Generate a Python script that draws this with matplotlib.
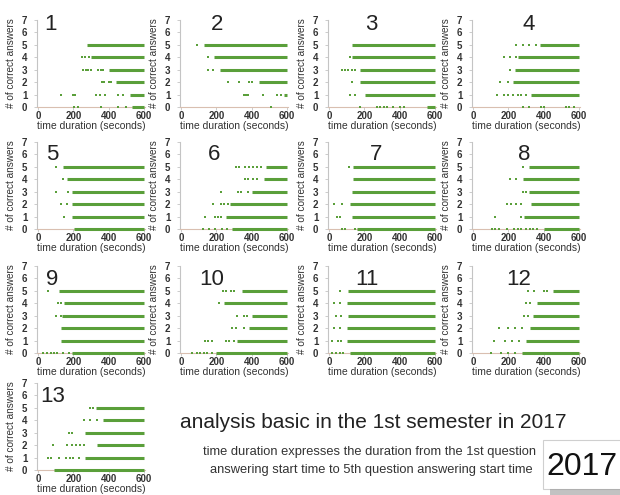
import numpy as np
import matplotlib
matplotlib.use('Agg')
import matplotlib.pyplot as plt
from matplotlib.patches import Rectangle

plt.rcParams['font.family'] = ['Liberation Sans', 'DejaVu Sans']

# number of correct answers per row, 0..5
ANSWERS = [0, 1, 2, 3, 4, 5]
PANEL_IDS = list(range(1, 14))
TIME_TICKS = [0, 200, 400, 600]
ANSWER_TICKS = [0, 1, 2, 3, 4, 5, 6, 7]

# time (s) where the dense band of students begins, per panel, rows 0..5 (nan = no band)
nan = np.nan
BAND_START = [
    [530, 520, 440, 400, 300, 280],
    [nan, 580, 440, 220, 185, 130],
    [555, 205, 175, 175, 130, 130],
    [nan, 330, 227, 236, 255, 380],
    [205, 194, 194, 195, 165, 140],
    [290, 255, 280, 400, 470, 480],
    [157, 129, 120, 129, 138, 138],
    [400, 290, 327, 318, 282, 318],
    [194, 129, 129, 138, 148, 120],
    [200, 318, 382, 400, 245, 345],
    [120, 100, 100, 110, 100, 110],
    [280, 300, 320, 340, 360, 450],
    [92, 268, 332, 268, 370, 330],
]

# isolated answers before the band, per panel, rows 0..5
EARLY_TIMES = [
    [[205, 225, 355, 450, 500], [130, 200, 210, 330, 350, 380, 450, 480],
     [360, 375, 400, 415], [255, 270, 285, 300, 340, 355, 370], [250, 265, 290], []],
    [[510], [355, 365, 380, 465, 545, 565], [265, 330, 385, 400], [155, 182], [155], [90]],
    [[175, 270, 290, 310, 330, 360, 400, 425], [120, 148], [129],
     [74, 90, 110, 130, 150], [120], []],
    [[282, 318, 382, 400, 527, 545, 573], [136, 173, 200, 227, 255, 273, 300],
     [155, 200], [209], [178, 209, 245], [245, 282, 318, 355]],
    [[], [148], [129, 166], [102, 170], [140], [102]],
    [[127, 160, 190, 230, 260], [136, 191, 210, 225], [182, 227, 245, 265],
     [227, 320, 340, 380], [360, 380, 410, 430], [309, 330, 360, 385, 405, 430, 450]],
    [[74, 92, 150], [46, 65], [28, 74], [], [], [111]],
    [[109, 127, 145, 191, 230, 255, 273, 300, 320, 340, 360], [127, 273],
     [191, 218, 245, 273], [282, 300], [209, 245], [282]],
    [[28, 50, 75, 90, 110, 140, 175], [], [], [102, 129], [111, 129], [55]],
    [[60, 90, 110, 130, 150, 175], [136, 155, 173, 255, 273, 300], [291, 309, 355],
     [318, 355, 373], [218], [236, 255, 282, 300]],
    [[20, 40, 60, 80], [20, 50, 70], [30, 60], [40, 70], [30, 60], [60]],
    [[100, 160, 200, 240], [120, 180, 220, 260], [150, 200, 240, 280],
     [290, 310], [300, 320], [310, 345, 400, 420]],
    [[], [55, 74, 120, 157, 180, 200, 230], [83, 166, 190, 215, 240, 258],
     [175, 194], [258, 295, 332], [295, 310]],
]

GREEN = '#5a9f3a'
AXIS_GRAY = '#c4c4c4'

FIG_W, FIG_H = 620, 495
COL_LEFT = [37, 180, 328, 472]
ROW_BASE = [107, 229, 353, 470]
AX_W, AX_H = 108, 87

# label positions of the panel numbers (data coords)
NUM_POS = [(70, 6.6), (207, 6.6), (242, 6.6), (316, 6.6),
           (82, 6.0), (190, 6.0), (265, 6.0), (290, 6.0),
           (82, 5.9), (175, 5.9), (215, 5.9), (260, 5.9),
           (83, 5.9)]

fig = plt.figure(figsize=(FIG_W / 100, FIG_H / 100), dpi=100)
fig.patch.set_facecolor('white')

for i, pid in enumerate(PANEL_IDS):
    r, c = divmod(i, 4)
    ax = fig.add_axes([COL_LEFT[c] / FIG_W, 1 - ROW_BASE[r] / FIG_H,
                       AX_W / FIG_W, AX_H / FIG_H])
    for row, y in enumerate(ANSWERS):
        start = BAND_START[i][row]
        if not np.isnan(start):
            ax.hlines(y, start, 600, color=GREEN, lw=2.2, clip_on=False, zorder=3)
        xs = EARLY_TIMES[i][row]
        if xs:
            ax.scatter(xs, [y] * len(xs), s=3, color=GREEN, marker='s',
                       linewidths=0, clip_on=False, zorder=3)
    ax.set_xlim(-5, 605)
    ax.set_ylim(0, 7)
    ax.set_xticks(TIME_TICKS)
    ax.set_yticks(ANSWER_TICKS)
    ax.tick_params(axis='both', length=2, width=0.6, color=AXIS_GRAY,
                   labelsize=7, labelcolor='#333333')
    ax.tick_params(axis='y', pad=5)
    ax.tick_params(axis='x', pad=1)
    for lab in ax.get_xticklabels() + ax.get_yticklabels():
        lab.set_fontweight('bold')
    for side in ['top', 'right']:
        ax.spines[side].set_visible(False)
    ax.spines['left'].set_color(AXIS_GRAY)
    ax.spines['bottom'].set_color('#d9bfb0')
    ax.spines['left'].set_linewidth(0.8)
    ax.spines['bottom'].set_linewidth(0.8)
    ax.set_xlabel('time duration (seconds)', fontsize=7.5, labelpad=0, color='#333333')
    ax.set_ylabel('# of correct answers', fontsize=7.2, labelpad=4, color='#333333')
    nx, ny = NUM_POS[i]
    ax.text(nx, ny, str(pid), fontsize=16, ha='center', va='center', color='#222222')

fig.text(373 / FIG_W, 1 - 423 / FIG_H, 'analysis basic in the 1st semester in 2017',
         fontsize=15, ha='center', va='center', color='#222222')
fig.text(369 / FIG_W, 1 - 452 / FIG_H,
         'time duration expresses the duration from the 1st question',
         fontsize=9.3, ha='center', va='center', color='#333333')
fig.text(371 / FIG_W, 1 - 470 / FIG_H,
         'answering start time to 5th question answering start time',
         fontsize=9.3, ha='center', va='center', color='#333333')

# year badge in the lower right corner
fig.patches.append(Rectangle((543 / FIG_W, 0.012), 0.2, (495 - 440) / FIG_H - 0.012,
                             transform=fig.transFigure, facecolor='white',
                             edgecolor='#cfcfcf', lw=0.8, zorder=1))
fig.patches.append(Rectangle((550 / FIG_W, 0.0), 0.2, 0.012,
                             transform=fig.transFigure, facecolor='#9a9a9a',
                             edgecolor='none', alpha=0.6, zorder=1))
fig.text(582 / FIG_W, 1 - 467 / FIG_H, '2017', fontsize=23, ha='center',
         va='center', color='#111111', zorder=2)

fig.savefig('out.png', dpi=100)
